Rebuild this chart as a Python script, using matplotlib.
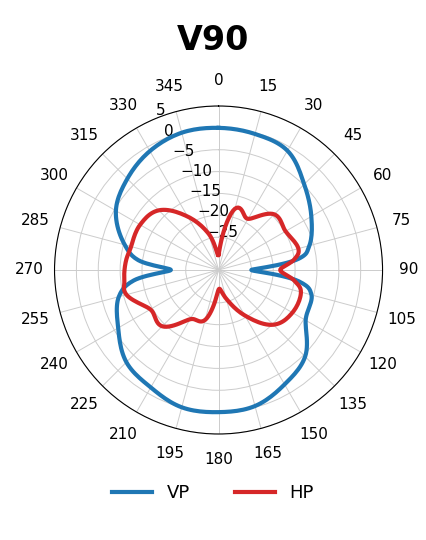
import numpy as np
import matplotlib
matplotlib.use("Agg")
import matplotlib.pyplot as plt

angles_deg = [0, 15, 30, 45, 60, 75, 82, 90, 98, 105, 120, 135, 150, 165, 180,
              195, 210, 225, 240, 255, 263, 270, 277, 285, 300, 315, 330, 345]
vp = [0, -0.3, -1.0, -4.8, -8.0, -11.0, -14, -25, -14, -10.5, -9.5, -4.5, -2.3, -0.3, 0,
      0, -1.5, -2.7, -6.0, -8.9, -13, -21.6, -14, -10.3, -5.4, -3.0, -1.1, 0]
hp = [-29, -18, -19, -14.5, -14.8, -13.6, -15, -18.4, -15, -13, -13, -14.8, -20.5, -25.7, -28,
      -20.7, -19.5, -14.3, -14.5, -10.7, -10.8, -11, -11.3, -11.8, -11.8, -13.2, -18.4, -24]


def smooth_closed(a_deg, r, n=12):
    """Catmull-Rom curve through the given points (drawing only)."""
    a = np.array(a_deg, float); r = np.array(r, float)
    N = len(a)
    ts, rs = [], []
    for i in range(N):
        p0, p1, p2, p3 = [(i + k) % N for k in (-1, 0, 1, 2)]
        a0, a1, a2, a3 = a[p0], a[p1], a[p2], a[p3]
        if a0 > a1: a0 -= 360
        if a2 < a1: a2 += 360
        if a3 < a2: a3 += 360
        for t in np.linspace(0, 1, n, endpoint=False):
            t2, t3 = t * t, t * t * t
            f = lambda q0, q1, q2, q3: 0.5 * ((2 * q1) + (-q0 + q2) * t + (2 * q0 - 5 * q1 + 4 * q2 - q3) * t2 + (-q0 + 3 * q1 - 3 * q2 + q3) * t3)
            ts.append(f(a0, a1, a2, a3)); rs.append(f(r[p0], r[p1], r[p2], r[p3]))
    ts.append(ts[0] + 360); rs.append(rs[0])
    return np.deg2rad(ts), np.array(rs)


fig = plt.figure(figsize=(4.26, 5.40), dpi=100)
ax = fig.add_axes([0.128, 0.195, 0.77, 0.61], projection='polar')
ax.set_theta_zero_location('N')
ax.set_theta_direction(-1)
t1, r1 = smooth_closed(angles_deg, vp)
t2, r2 = smooth_closed(angles_deg, hp)
ax.plot(t1, r1, color='#1f77b4', lw=3, label='VP')
ax.plot(t2, r2, color='#d62728', lw=3, label='HP')
ax.set_rlim(-32.5, 5)
ax.set_rticks([5, 0, -5, -10, -15, -20, -25])
ax.set_rlabel_position(-22.5)
ax.set_thetagrids(np.arange(0, 360, 15), [str(a) for a in range(0, 360, 15)])
ax.tick_params(axis='x', labelsize=11, pad=8)
ax.tick_params(axis='y', labelsize=11)
ax.grid(True, color='#cccccc', lw=0.7)
ax.spines['polar'].set_linewidth(0.8)
fig.suptitle('V90', fontsize=24, fontweight='bold', y=0.955)
fig.legend(loc='lower center', ncol=2, frameon=False, fontsize=13, bbox_to_anchor=(0.5, 0.04),
           handlelength=2.2, columnspacing=2.5)
fig.savefig('out.png', dpi=100)
